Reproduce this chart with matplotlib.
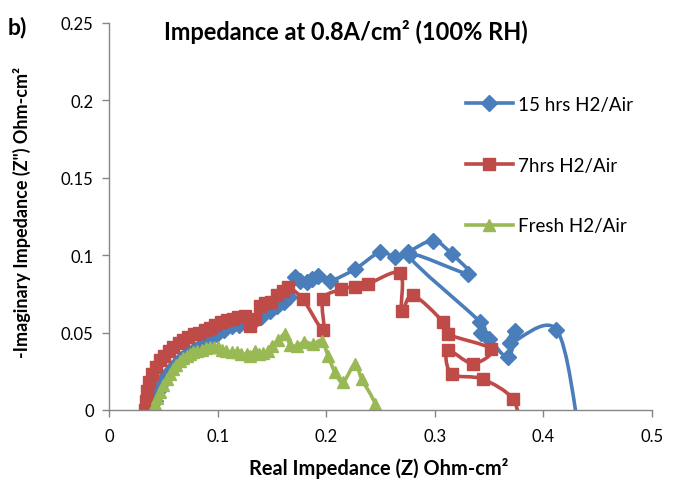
import numpy as np
import matplotlib
matplotlib.use("Agg")
import matplotlib.pyplot as plt
from matplotlib.path import Path
from matplotlib.patches import PathPatch
from matplotlib.lines import Line2D

plt.rcParams['font.family'] = ['Lato', 'DejaVu Sans']

# ---------------- data ----------------
blue_x = [0.040, 0.042, 0.045, 0.048, 0.052, 0.056, 0.061, 0.066, 0.072, 0.078, 0.085, 0.092,
          0.099, 0.106, 0.113, 0.120, 0.127, 0.134, 0.141, 0.148, 0.155, 0.161, 0.166, 0.171,
          0.176, 0.182, 0.1866, 0.192, 0.2035, 0.2265, 0.2495, 0.263, 0.275, 0.2985, 0.3155,
          0.3305, 0.276, 0.3415, 0.343, 0.350, 0.3675, 0.374, 0.369, 0.412, 0.433]
blue_y = [0.000, 0.006, 0.012, 0.017, 0.021, 0.025, 0.029, 0.033, 0.036, 0.039, 0.042, 0.045,
          0.049, 0.052, 0.054, 0.055, 0.056, 0.058, 0.061, 0.064, 0.067, 0.070, 0.073, 0.086,
          0.0835, 0.0826, 0.0846, 0.0868, 0.0835, 0.091, 0.102, 0.0988, 0.102, 0.1094, 0.1008,
          0.088, 0.100, 0.057, 0.050, 0.046, 0.034, 0.051, 0.043, 0.052, -0.015]

red_x = [0.033, 0.034, 0.035, 0.037, 0.040, 0.043, 0.047, 0.051, 0.055, 0.059, 0.064, 0.068,
         0.073, 0.078, 0.083, 0.088, 0.093, 0.098, 0.103, 0.109, 0.114, 0.119, 0.125, 0.130,
         0.134, 0.139, 0.144, 0.149, 0.155, 0.160, 0.1648, 0.1786, 0.197, 0.197, 0.214, 0.2265,
         0.2385, 0.268, 0.2695, 0.280, 0.308, 0.312, 0.352, 0.335, 0.312, 0.3155, 0.344, 0.372,
         0.378]
red_y = [0.000, 0.006, 0.012, 0.018, 0.023, 0.028, 0.032, 0.035, 0.038, 0.041, 0.043, 0.045,
         0.047, 0.049, 0.050, 0.052, 0.053, 0.055, 0.057, 0.058, 0.059, 0.060, 0.061, 0.0545,
         0.059, 0.067, 0.069, 0.070, 0.074, 0.077, 0.0795, 0.0715, 0.052, 0.0717, 0.078, 0.0797,
         0.0814, 0.0885, 0.064, 0.074, 0.0566, 0.049, 0.0394, 0.030, 0.0385, 0.0233, 0.020, 0.0071,
         -0.012]

green_x = [0.0405, 0.042, 0.044, 0.047, 0.050, 0.053, 0.056, 0.059, 0.062, 0.0654, 0.068, 0.0715,
           0.0745, 0.0775, 0.081, 0.0853, 0.089, 0.093, 0.0965, 0.100, 0.104, 0.108, 0.113, 0.1175,
           0.122, 0.1268, 0.130, 0.134, 0.138, 0.142, 0.146, 0.150, 0.156, 0.162, 0.167, 0.173,
           0.180, 0.188, 0.196, 0.2017, 0.208, 0.2155, 0.2265, 0.2327, 0.245, 0.249]
green_y = [0.000, 0.004, 0.008, 0.0116, 0.016, 0.020, 0.023, 0.0265, 0.029, 0.0318, 0.0335, 0.035,
           0.036, 0.0373, 0.038, 0.039, 0.040, 0.0405, 0.0405, 0.0405, 0.039, 0.038, 0.0375, 0.0373,
           0.036, 0.036, 0.035, 0.038, 0.036, 0.037, 0.038, 0.0415, 0.045, 0.049, 0.042, 0.0415,
           0.044, 0.0426, 0.0448, 0.035, 0.0245, 0.018, 0.0297, 0.020, 0.004, -0.012]

labels = ["15 hrs H2/Air", "7hrs H2/Air", "Fresh H2/Air"]
colors = ["#4A7EBB", "#BE4B48", "#98B954"]
markers = ["D", "s", "^"]
msizes = [8, 8.5, 9]

x_ticks = [0, 0.1, 0.2, 0.3, 0.4, 0.5]
y_ticks = [0, 0.05, 0.1, 0.15, 0.2, 0.25]
y_tick_labels = ["0", "0.05", "0.1", "0.15", "0.2", "0.25"]

title = "Impedance at 0.8A/cm² (100% RH)"
xlabel = "Real Impedance (Z) Ohm-cm²"
ylabel = "-Imaginary Impedance (Z\") Ohm-cm²"


def smooth_path(x, y):
    """Catmull-Rom style cubic Bezier through the points (Excel smoothed line)."""
    pts = np.column_stack([x, y])
    n = len(pts)
    verts = [pts[0]]
    codes = [Path.MOVETO]
    for i in range(n - 1):
        p0 = pts[i - 1] if i > 0 else pts[i]
        p1 = pts[i]
        p2 = pts[i + 1]
        p3 = pts[i + 2] if i + 2 < n else pts[i + 1]
        c1 = p1 + (p2 - p0) / 6.0
        c2 = p2 - (p3 - p1) / 6.0
        verts += [c1, c2, p2]
        codes += [Path.CURVE4] * 3
    return Path(verts, codes)


fig = plt.figure(figsize=(6.73, 4.81), dpi=100)
ax = fig.add_axes([109 / 673, 1 - 411 / 481, (652 - 109) / 673, (411 - 24) / 481])

series = [(blue_x, blue_y), (red_x, red_y), (green_x, green_y)]
handles = []
for (sx, sy), lab, c, m, ms in zip(series, labels, colors, markers, msizes):
    patch = PathPatch(smooth_path(sx, sy), facecolor='none', edgecolor=c, lw=2.6,
                      capstyle='round', joinstyle='round')
    ax.add_patch(patch)
    ax.plot(sx, sy, linestyle='none', marker=m, ms=ms, color=c, mec=c)
    handles.append(Line2D([0], [0], color=c, lw=2.6, marker=m, ms=ms, mec=c))

ax.set_xlim(0, 0.5)
ax.set_ylim(0, 0.25)
ax.set_xticks(x_ticks)
ax.set_xticklabels([f"{t:g}" for t in x_ticks])
ax.set_yticks(y_ticks)
ax.set_yticklabels(y_tick_labels)
for s in ['top', 'right']:
    ax.spines[s].set_visible(False)
for s in ['left', 'bottom']:
    ax.spines[s].set_color('#868686')
    ax.spines[s].set_linewidth(1.0)
ax.tick_params(axis='both', colors='#868686', labelcolor='black', labelsize=12,
               length=5, width=1.0, direction='out')
ax.tick_params(axis='x', pad=8)
ax.tick_params(axis='y', pad=6)

renderer = fig.canvas.get_renderer()


def fit_text(t, target_px, vertical=False):
    bb = t.get_window_extent(renderer)
    size = bb.height if vertical else bb.width
    t.set_fontsize(t.get_fontsize() * target_px / size)


t_title = fig.text(346 / 673, 1 - 32 / 481, title, ha='center', va='center', fontsize=13,
                   fontweight='bold')
fit_text(t_title, 364)
fig.text(8 / 673, 1 - 27 / 481, "b)", ha='left', va='center', fontsize=16.5, fontweight='bold')
t_xl = fig.text(379 / 673, 1 - 469 / 481, xlabel, ha='center', va='center', fontsize=12,
                fontweight='bold')
fit_text(t_xl, 258)
t_yl = fig.text(22 / 673, 1 - 212 / 481, ylabel, ha='center', va='center', fontsize=12,
                fontweight='bold', rotation=90)
fit_text(t_yl, 290, vertical=True)

leg = fig.legend(handles, labels, loc='upper left', bbox_to_anchor=(466 / 673, 1 - 97 / 481),
                 frameon=False, fontsize=13.5, labelspacing=2.33, handlelength=2.5,
                 handletextpad=0.25, borderpad=0, borderaxespad=0)

fig.savefig("out.png", dpi=100)
